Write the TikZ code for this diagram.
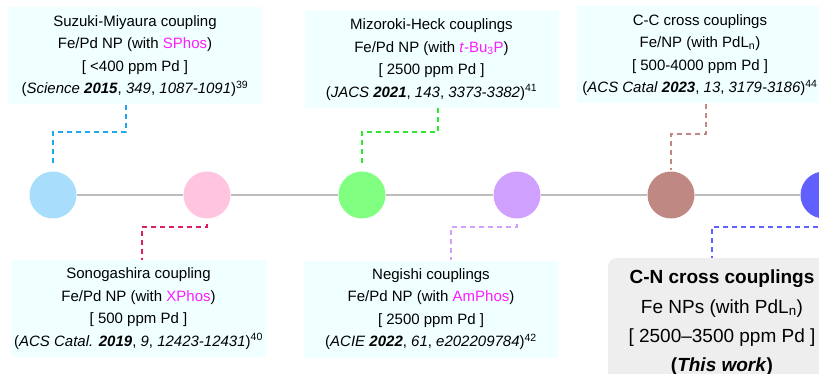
\documentclass[tikz,border=0pt]{standalone}
\usepackage{fontspec}
\setmainfont{Liberation Sans}
\usepackage{xcolor}

\definecolor{boxcyan}{HTML}{F0FFFF}
\definecolor{boxgray}{HTML}{EEEEEE}
\definecolor{axisgray}{HTML}{BDBDBD}
\definecolor{ligand}{HTML}{FF1CFF}
\definecolor{dotA}{HTML}{A8DEFC}
\definecolor{dotB}{HTML}{FFC4E0}
\definecolor{dotC}{HTML}{80FF80}
\definecolor{dotD}{HTML}{D0A0FF}
\definecolor{dotE}{HTML}{C08882}
\definecolor{dotF}{HTML}{6060FF}
\definecolor{linkA}{HTML}{1EA8EE}
\definecolor{linkB}{HTML}{DC1E66}
\definecolor{linkC}{HTML}{2EE62E}
\definecolor{linkD}{HTML}{D0A0FF}
\definecolor{linkE}{HTML}{C08882}
\definecolor{linkF}{HTML}{6060FF}

\begin{document}
\begin{tikzpicture}[
x=1pt,
y=-1pt,
every node/.style={font=\fontsize{15}{22.5}\selectfont},
refbox/.style={rectangle,fill=boxcyan,align=center,inner sep=0pt,minimum width=254pt,minimum height=97pt},
workbox/.style={rectangle,rounded corners=9pt,fill=boxgray,align=center,inner sep=0pt,minimum width=228pt,minimum height=130pt,font=\fontsize{19}{29.3}\selectfont},
dot/.style={circle,inner sep=0pt,minimum size=47pt},
axis/.style={draw=axisgray,line width=2pt},
link/.style={dash pattern=on 5pt off 4pt,line width=1.6pt}
]
\useasboundingbox (0,0) rectangle (819,374);
\clip (0,0) rectangle (819,374);

% reference boxes
\node[refbox] (suzuki) at (135,56) {Suzuki-Miyaura coupling\\Fe/Pd NP (with \textcolor{ligand}{SPhos})\\{[} <400 ppm Pd ]\\(\textit{Science} \textbf{\textit{2015}}, \textit{349}, \textit{1087-1091})\textsuperscript{39}};
\node[refbox] (heck) at (431.5,59.5) {Mizoroki-Heck couplings\\Fe/Pd NP (with \textcolor{ligand}{\textit{t}-Bu\textsubscript{3}P})\\{[} 2500 ppm Pd ]\\(\textit{JACS} \textbf{\textit{2021}}, \textit{143}, \textit{3373-3382})\textsuperscript{41}};
\node[refbox,minimum width=246pt] (ccross) at (700,55) {C-C cross couplings\\Fe/NP (with PdL\textsubscript{n})\\{[} 500-4000 ppm Pd ]\\(\textit{ACS Catal} \textbf{\textit{2023}}, \textit{13}, \textit{3179-3186})\textsuperscript{44}};
\node[refbox] (sonogashira) at (138.5,308.5) {Sonogashira coupling\\Fe/Pd NP (with \textcolor{ligand}{XPhos})\\{[} 500 ppm Pd ]\\(\textit{ACS Catal.} \textbf{\textit{2019}}, \textit{9}, \textit{12423-12431})\textsuperscript{40}};
\node[refbox] (negishi) at (431,309) {Negishi couplings\\Fe/Pd NP (with \textcolor{ligand}{AmPhos})\\{[} 2500 ppm Pd ]\\(\textit{ACIE} \textbf{\textit{2022}}, \textit{61}, \textit{e202209784})\textsuperscript{42}};
\node[workbox] (cncross) at (722,323) {\textbf{C-N cross couplings}\\Fe NPs (with PdL\textsubscript{n})\\{[} 2500--3500 ppm Pd ]\\\textbf{(\textit{This work})}};

% timeline
\node[dot,fill=dotA] (c1) at (53,195) {};
\node[dot,fill=dotB] (c2) at (207,195) {};
\node[dot,fill=dotC] (c3) at (362,195) {};
\node[dot,fill=dotD] (c4) at (517,195) {};
\node[dot,fill=dotE] (c5) at (671,195) {};
\node[dot,fill=dotF] (c6) at (824,195) {};
\draw[axis] (c1) -- (c2);
\draw[axis] (c2) -- (c3);
\draw[axis] (c3) -- (c4);
\draw[axis] (c4) -- (c5);
\draw[axis] (c5) -- (c6);

% dashed links
\coordinate (k1) at (126,132);
\coordinate (k2) at (438,132);
\coordinate (k3) at (706,134);
\coordinate (k4) at (142,227);
\coordinate (k5) at (451,227);
\coordinate (k6) at (712,227);
\draw[link,draw=linkA,shorten >=7pt] (suzuki.south -| k1) -- (k1) -| (c1);
\draw[link,draw=linkC,shorten >=5pt] (heck.south -| k2) -- (k2) -| (c3);
\draw[link,draw=linkE,shorten >=1pt] (ccross.south -| k3) -- (k3) -| (c5);
\draw[link,draw=linkB,shorten <=5pt] (c2) |- (k4) -- (sonogashira.north -| k4);
\draw[link,draw=linkD,shorten <=5pt] (c4) |- (k5) -- (negishi.north -| k5);
\draw[link,draw=linkF,shorten <=5pt] (c6) |- (k6) -- (cncross.north -| k6);
\end{tikzpicture}
\end{document}
